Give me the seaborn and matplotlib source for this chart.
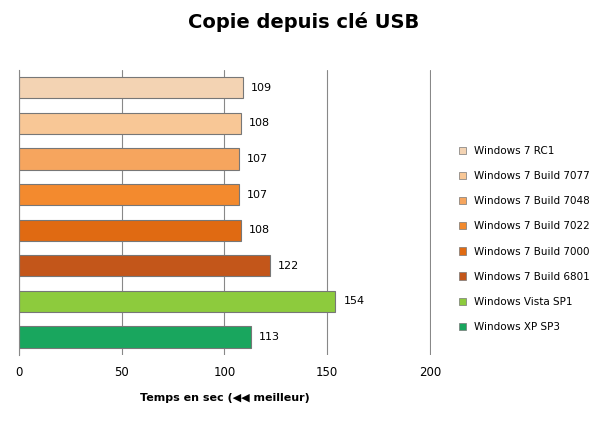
import matplotlib
matplotlib.use("Agg")
import matplotlib.pyplot as plt
import seaborn as sns
import pandas as pd

categories = ["Windows 7 RC1", "Windows 7 Build 7077", "Windows 7 Build 7048", "Windows 7 Build 7022",
              "Windows 7 Build 7000", "Windows 7 Build 6801", "Windows Vista SP1", "Windows XP SP3"]
values = [109, 108, 107, 107, 108, 122, 154, 113]
colors = ["#F3D3B3", "#F8C796", "#F6A55E", "#F38A2E", "#E06A12", "#C3561A", "#8DCB3D", "#19A65E"]

df = pd.DataFrame({"cat": categories, "val": values})
sns.set_style("white")
plt.rcParams["text.color"] = "black"
plt.rcParams["xtick.color"] = "black"
plt.rcParams["axes.labelcolor"] = "black"
fig = plt.figure(figsize=(6.07, 4.37), dpi=100)
ax = fig.add_axes([0.031, 0.188, 0.679, 0.652])
sns.barplot(data=df, y="cat", x="val", hue="cat", palette=colors, dodge=False, saturation=1,
            width=0.6, edgecolor="#777777", linewidth=0.8, ax=ax, legend=False)
for i, v in enumerate(values):
    ax.text(v + 4, i, str(v), va="center", ha="left", fontsize=8)
ax.set_xlim(0, 200.5)
ax.set_xticks([0, 50, 100, 150, 200])
ax.tick_params(axis="x", labelsize=8.5, length=0, pad=8)
ax.set_yticks([])
ax.set_ylabel("")
ax.set_xlabel("Temps en sec (◀◀ meilleur)", fontsize=8, fontweight="bold", labelpad=10)
ax.grid(axis="x", color="#888888", linewidth=0.8)
ax.set_axisbelow(True)
for s in ["top", "right", "bottom"]:
    ax.spines[s].set_visible(False)
ax.spines["left"].set_color("#888888")
fig.text(0.5, 0.935, "Copie depuis clé USB", ha="center", fontsize=14, fontweight="bold")
handles = [plt.Rectangle((0, 0), 1, 1, facecolor=c, edgecolor="#777777", linewidth=0.5) for c in colors]
fig.legend(handles, categories, loc="center left", bbox_to_anchor=(0.74, 0.453),
           frameon=False, fontsize=7.5, handlelength=0.7, handleheight=0.7, labelspacing=1.45)
fig.savefig("out.png", dpi=100)
